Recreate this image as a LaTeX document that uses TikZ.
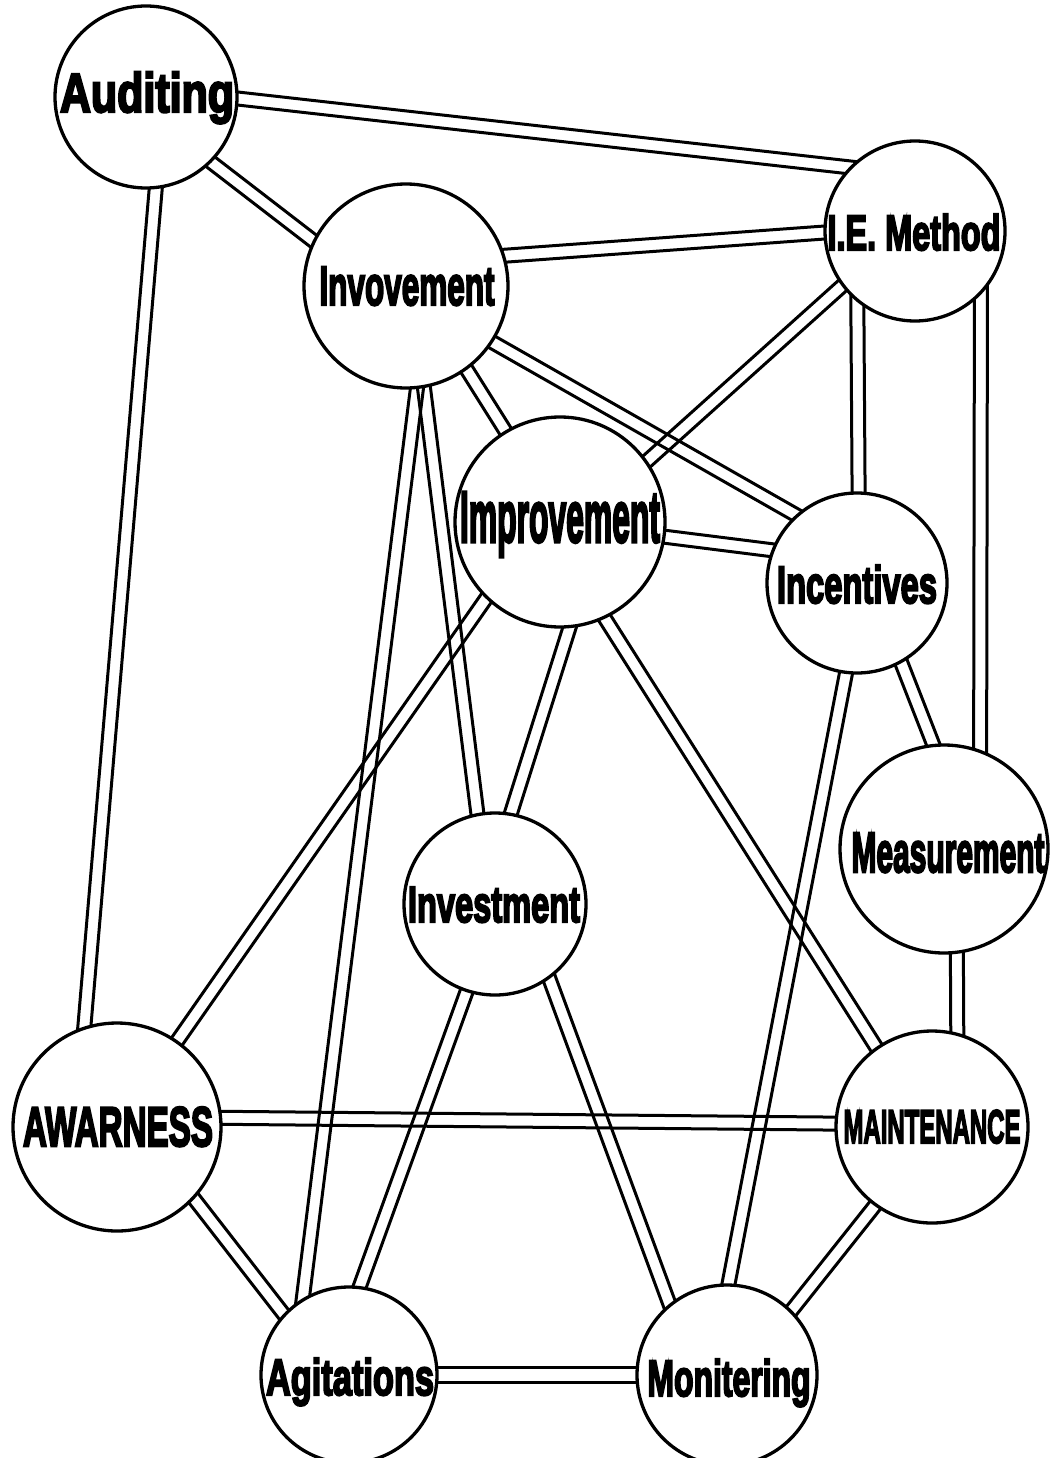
\documentclass[tikz,border=0pt]{standalone}
\usepackage{fontspec}
\usepackage{graphicx}
\newfontfamily\lblfont{Liberation Sans}[BoldFeatures={FakeBold=4.5}]
\usetikzlibrary{calc}
\pgfdeclarelayer{background}
\pgfsetlayers{background,main}

\tikzset{
  bubble/.style={circle, draw=black, fill=white, line width=3.3pt, inner sep=0pt},
  word/.style={anchor=base, inner sep=0pt},
  link/.style={draw=black, line width=3pt, line cap=butt},
}

% label text squeezed to a given width and cap height
\newcommand\lbl[3]{\resizebox{#1pt}{#2pt}{\lblfont\bfseries #3}}

% a double connector between two border points, started a little inside both circles
\newcommand\dline[3][6.5pt]{%
  \path (#2) coordinate (dl-a) (#3) coordinate (dl-b);
  \path ($(dl-a)!-18pt!(dl-b)$) coordinate (dl-c)
        ($(dl-b)!-18pt!(dl-a)$) coordinate (dl-d);
  \draw[link] ($(dl-c)!#1!90:(dl-d)$) -- ($(dl-d)!#1!-90:(dl-c)$);
  \draw[link] ($(dl-c)!#1!-90:(dl-d)$) -- ($(dl-d)!#1!90:(dl-c)$);
}

\begin{document}
\begin{tikzpicture}[x=1pt, y=-1pt]
\useasboundingbox (0,0) rectangle (1052,1458);

% circles
\node[bubble, minimum size=182pt] (aud) at (146,97)   {};
\node[bubble, minimum size=180pt] (ie)  at (915,231)  {};
\node[bubble, minimum size=204pt] (inv) at (406,286)  {};
\node[bubble, minimum size=210pt] (imp) at (560,522)  {};
\node[bubble, minimum size=180pt] (inc) at (857,583)  {};
\node[bubble, minimum size=208pt] (mea) at (944,849)  {};
\node[bubble, minimum size=182pt] (ivt) at (495,904)  {};
\node[bubble, minimum size=208pt] (awa) at (117,1127) {};
\node[bubble, minimum size=192pt] (mai) at (932,1127) {};
\node[bubble, minimum size=176pt] (agi) at (349,1375) {};
\node[bubble, minimum size=180pt] (mon) at (727,1375) {};

% labels
\node[word] (aud-t) at (147,112)  {\lbl{174}{40}{Auditing}};
\node[word] (ie-t)  at (914,250)  {\lbl{173}{36}{I.E. Method}};
\node[word] (inv-t) at (407,305)  {\lbl{175}{38}{Invovement}};
\node[word] (imp-t) at (560,542)  {\lbl{200}{50}{Improvement}};
\node[word] (inc-t) at (857,603)  {\lbl{160}{38}{Incentives}};
\node[word] (mea-t) at (948,872)  {\lbl{193}{39}{Measurement}};
\node[word] (ivt-t) at (494,922)  {\lbl{172}{35}{Investment}};
\node[word] (awa-t) at (118,1146) {\lbl{190}{39}{AWARNESS}};
\node[word] (mai-t) at (932,1143) {\lbl{177}{33}{MAINTENANCE}};
\node[word] (agi-t) at (350,1395) {\lbl{168}{37}{Agitations}};
\node[word] (mon-t) at (729,1396) {\lbl{163}{37}{Monitering}};

% connectors
\begin{pgfonlayer}{background}
\dline{aud.-1}{ie.136}
\dline{aud.-45}{inv.154}
\dline{aud.-84}{awa.108}
\dline{ie.181}{inv.17}
\dline{ie.217}{imp.35}
\dline{ie.231}{inc.89}
\dline{ie.-44}{mea.70}
\dline{inv.-54}{imp.121}
\dline{inv.-33}{inc.132}
\dline{inv.-80}{ivt.101}
\dline{inv.-84}{agi.121}
\dline{imp.-8}{inc.159}
\dline{imp.-85}{ivt.80}
\dline{imp.226}{awa.55}
\dline{imp.-65}{mai.125}
\dline{inc.-61}{mea.96}
\dline{inc.-97}{mon.89}
\dline{mea.-83}{mai.75}
\dline{awa.5}{mai.178}
\dline{awa.-43}{agi.137}
\dline{ivt.252}{agi.83}
\dline{ivt.-54}{mon.129}
\dline{mai.234}{mon.45}
\dline[7.5pt]{agi.0}{mon.180}
\end{pgfonlayer}
\end{tikzpicture}
\end{document}
